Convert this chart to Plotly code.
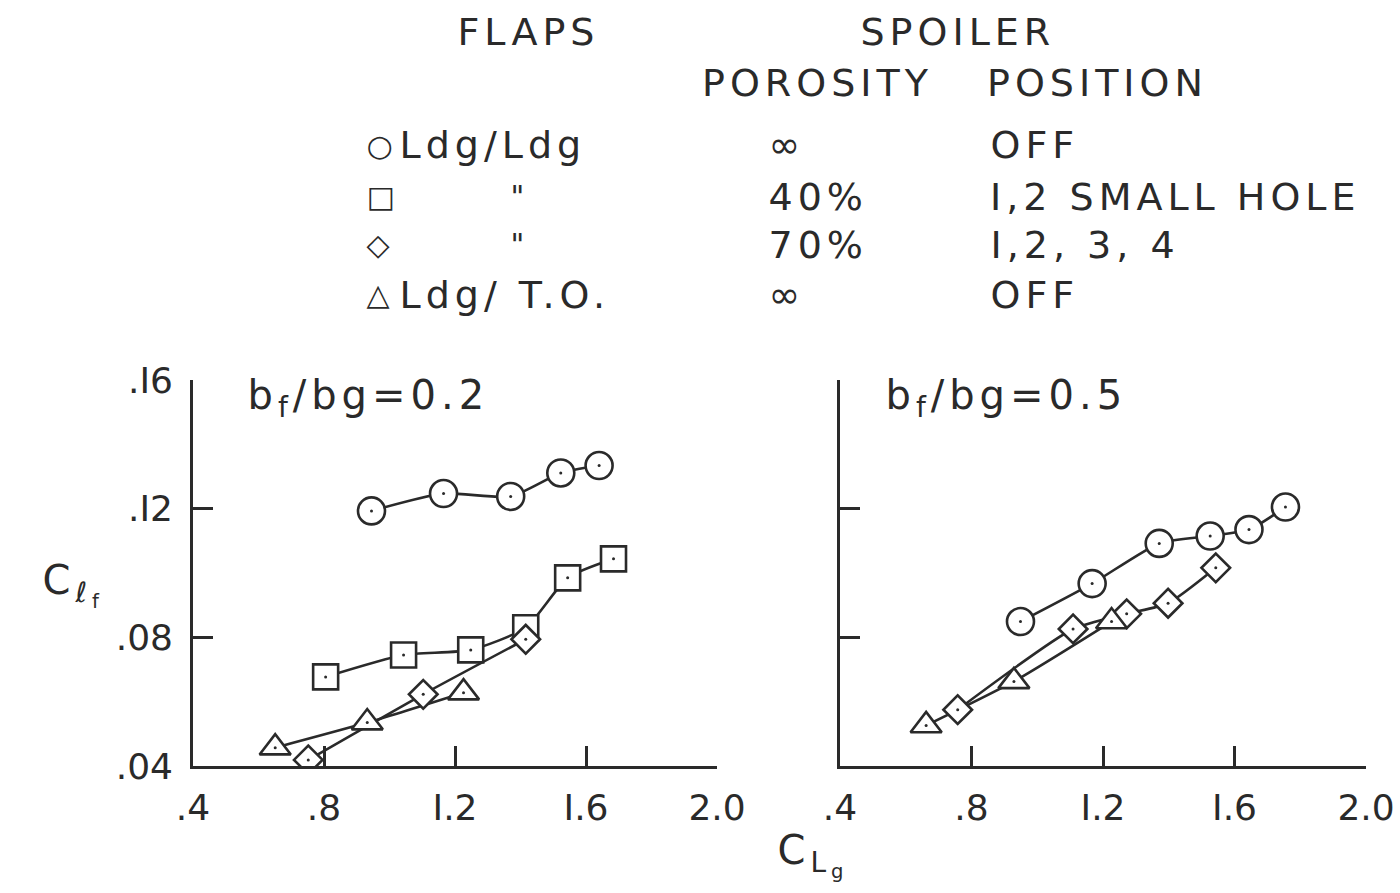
import re
import plotly.graph_objects as go

W, H = 1400, 893

# ---------------- data ----------------
# left panel  b_f/bg = 0.2
L_circ_x = [0.945, 1.165, 1.37, 1.523, 1.64]
L_circ_y = [0.1193, 0.1247, 0.1238, 0.1311, 0.1334]
L_sq_x = [0.805, 1.043, 1.248, 1.416, 1.544, 1.684]
L_sq_y = [0.0677, 0.0745, 0.0761, 0.0830, 0.0985, 0.1044]
L_dia_x = [0.752, 1.103, 1.416]
L_dia_y = [0.0419, 0.0623, 0.0794]
L_tri_x = [0.651, 0.932, 1.226]
L_tri_y = [0.0457, 0.0535, 0.0628]

# right panel  b_f/bg = 0.5
R_circ_x = [0.949, 1.167, 1.371, 1.526, 1.644, 1.755]
R_circ_y = [0.0849, 0.0967, 0.1092, 0.1115, 0.1135, 0.1205]
R_dia_x = [0.758, 1.109, 1.272, 1.398, 1.543]
R_dia_y = [0.0575, 0.0826, 0.0873, 0.0906, 0.1016]
R_tri_x = [0.662, 0.929, 1.226]
R_tri_y = [0.0526, 0.0663, 0.0849]

x_ticks = [0.4, 0.8, 1.2, 1.6, 2.0]
x_ticktext = [".4", ".8", "I.2", "I.6", "2.0"]
y_ticks = [0.04, 0.08, 0.12, 0.16]
y_ticktext = [".04", ".08", ".I2", ".I6"]

legend_flaps = ["Ldg/Ldg", "\"", "\"", "Ldg/ T.O."]
legend_porosity = ["\u221e", "40%", "70%", "\u221e"]
legend_position = ["OFF", "I,2 SMALL HOLE", "I,2, 3, 4", "OFF"]
legend_symbols = ["\u25cb", "\u25a1", "\u25c7", "\u25b3"]

INK = "#2a2a2a"
FONT = "DejaVu Sans"
SPACING = 5  # px of letter spacing added to annotation lettering

fig = go.Figure()


def add_series(xs, ys, xa, ya):
    fig.add_trace(go.Scatter(x=xs, y=ys, mode="lines", xaxis=xa, yaxis=ya,
                             line=dict(color=INK, width=2.6, shape="spline", smoothing=0.6),
                             hoverinfo="skip", showlegend=False))


def add_markers(xs, ys, symbol, size, xa, ya):
    fig.add_trace(go.Scatter(x=xs, y=ys, mode="markers", xaxis=xa, yaxis=ya,
                             marker=dict(symbol=symbol, size=size, color="white",
                                         line=dict(color=INK, width=2.6)),
                             showlegend=False))
    fig.add_trace(go.Scatter(x=xs, y=ys, mode="markers", xaxis=xa, yaxis=ya,
                             marker=dict(symbol="circle", size=3, color=INK),
                             hoverinfo="skip", showlegend=False))


left = [(L_circ_x, L_circ_y, "circle", 27), (L_sq_x, L_sq_y, "square", 25),
        (L_dia_x, L_dia_y, "diamond", 22), (L_tri_x, L_tri_y, "triangle-up", 27)]
right = [(R_circ_x, R_circ_y, "circle", 27), (R_dia_x, R_dia_y, "diamond", 22),
         (R_tri_x, R_tri_y, "triangle-up", 27)]

for xs, ys, s, sz in left:
    add_series(xs, ys, "x", "y")
for xs, ys, s, sz in right:
    add_series(xs, ys, "x2", "y2")
for xs, ys, s, sz in left:
    add_markers(xs, ys, s, sz, "x", "y")
for xs, ys, s, sz in right:
    add_markers(xs, ys, s, sz, "x2", "y2")


def px(x):
    return x / W


def py(y):
    return 1 - y / H


ax_common = dict(showgrid=False, zeroline=False, showline=True, linecolor=INK, linewidth=2.6,
                 ticks="inside", ticklen=20, tickwidth=2.6, tickcolor=INK, mirror=False,
                 automargin=False,
                 tickfont=dict(family=FONT, size=36, color=INK))

y_dom = [py(766), py(380)]
fig.update_layout(
    width=W, height=H, margin=dict(l=0, r=0, t=0, b=0, autoexpand=False),
    paper_bgcolor="white", plot_bgcolor="white",
    xaxis=dict(domain=[px(193), px(717)], range=[0.4, 2.0], tickvals=x_ticks, ticktext=x_ticktext,
               anchor="y", ticklabelstandoff=8, **ax_common),
    yaxis=dict(domain=y_dom, range=[0.04, 0.16], tickvals=y_ticks, ticktext=y_ticktext,
               anchor="x", ticklabelstandoff=10, **ax_common),
    xaxis2=dict(domain=[px(840), px(1366)], range=[0.4, 2.0], tickvals=x_ticks, ticktext=x_ticktext,
                anchor="y2", ticklabelstandoff=8, **ax_common),
    yaxis2=dict(domain=y_dom, range=[0.04, 0.16], tickvals=y_ticks, ticktext=y_ticktext,
                anchor="x2", showticklabels=False, **ax_common),
)

ann = []


def text(x, y, t, size=38):
    # letter spacing (added after layout) widens the text symmetrically about its
    # centre, so move the box right by half of the extra width to keep the left edge.
    n = len(re.sub(r"<[^>]+>", "", t))
    shift = SPACING * n / 2.0
    ann.append(dict(x=px(x + shift), y=py(y), xref="paper", yref="paper", text=t, showarrow=False,
                    xanchor="left", yanchor="middle",
                    font=dict(family=FONT, size=size, color=INK)))


# legend block (left edges)
text(455, 32, "FLAPS")
text(858, 32, "SPOILER")
text(700, 83, "POROSITY")
text(985, 83, "POSITION")
rows_y = [145, 197, 245, 295]
for i, ry in enumerate(rows_y):
    text(364, ry, legend_symbols[i], size=30)
    if legend_flaps[i] == "\"":
        text(508, ry, legend_flaps[i], size=30)
    else:
        text(397, ry, legend_flaps[i])
    text(766, ry, legend_porosity[i])
    text(988, ry, legend_position[i])

# panel labels
text(245, 398, "b<sub>f</sub>/bg=0.2", size=40)
text(883, 398, "b<sub>f</sub>/bg=0.5", size=40)

# axis titles
text(40, 585, "C<sub>\u2113<sub>f</sub></sub>", size=40)
text(775, 855, "C<sub>L<sub>g</sub></sub>", size=40)

fig.update_layout(annotations=ann)

# widen the lettering like the hand-lettered original
post = ("document.querySelectorAll('.annotation-text').forEach(function(t){"
        "t.style.letterSpacing='" + str(SPACING) + "px';});")
fig.write_html("out.html", post_script=post)
